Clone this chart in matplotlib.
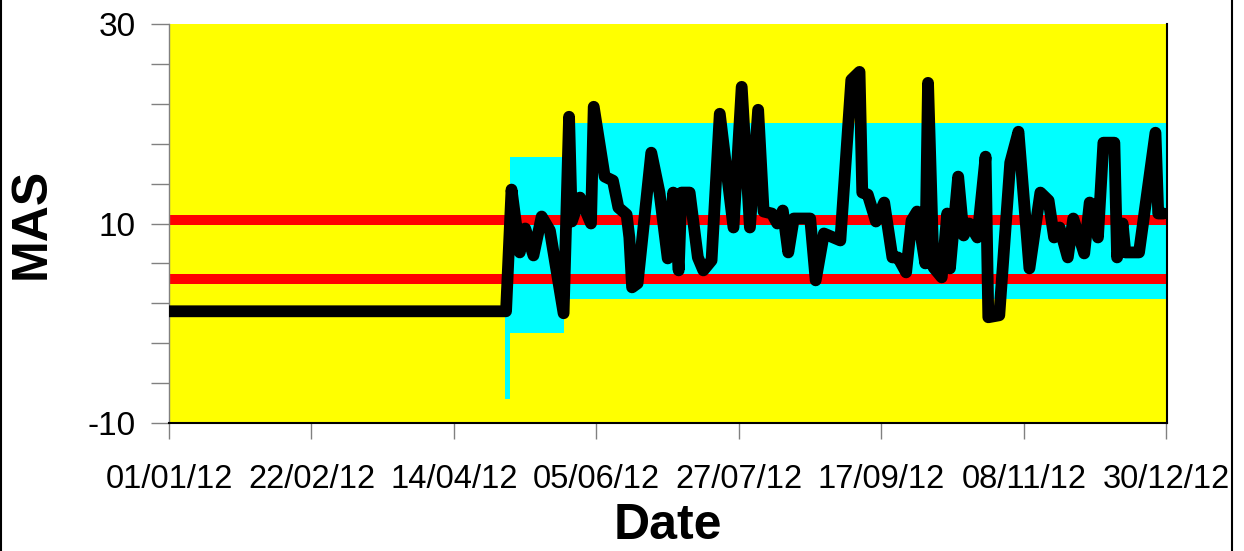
import numpy as np
import matplotlib
matplotlib.use('Agg')
import matplotlib.pyplot as plt
from matplotlib.lines import Line2D

plt.rcParams['font.family'] = ['Liberation Sans', 'DejaVu Sans']

# MAS series: days counted from 01/01/12
start = np.datetime64('2012-01-01')
mas_days = [0, 123, 125, 128, 130, 133, 136, 139, 144, 146, 147, 150, 154, 155,
            159, 162, 164, 167, 168, 169, 171, 176, 179, 182, 184, 186, 187, 190,
            193, 195, 198, 201, 206, 209, 212, 215, 217, 220, 222, 224, 226, 228,
            234, 236, 239, 245, 249, 252, 253, 255, 258, 261, 264, 266, 269, 271,
            273, 276, 277, 279, 282, 284, 285, 288, 290, 292, 295, 298, 299, 303,
            307, 310, 314, 318, 321, 323, 325, 328, 330, 334, 336, 337, 339, 341,
            345, 346, 348, 349, 354, 360, 361, 363]
mas_values = [1.2, 1.2, 13.4, 7.1, 9.5, 6.8, 10.7, 9.3, 1.0, 20.7, 10.2, 12.6, 10.0, 21.7,
              14.7, 14.3, 11.6, 10.9, 8.6, 3.6, 4.0, 17.1, 13.1, 6.5, 13.1, 5.3, 13.1, 13.1,
              6.6, 5.3, 6.3, 21.0, 9.6, 23.7, 9.6, 21.4, 11.2, 11.0, 10.0, 11.3, 7.1, 10.5,
              10.5, 4.3, 9.0, 8.3, 24.4, 25.2, 13.1, 12.9, 10.2, 12.1, 6.6, 6.6, 5.1, 10.3,
              11.2, 6.0, 24.1, 5.6, 4.6, 11.0, 5.5, 14.7, 8.8, 10.0, 8.6, 16.7, 0.6, 0.8,
              16.1, 19.2, 5.5, 13.1, 12.3, 8.6, 9.6, 6.6, 10.5, 7.0, 12.1, 11.9, 8.6, 18.1,
              18.1, 6.6, 10.0, 7.1, 7.1, 19.1, 11.0, 11.0]

# control limits (red lines)
limits = [10.4, 4.4]

# cyan bands: [first day, last day, low, high]
band_start = [122.5, 124.5, 144]
band_end = [124.5, 144, 364]
band_low = [-7.6, -1.0, 2.4]
band_high = [10.3, 16.7, 20.1]

x_tick_labels = ['01/01/12', '22/02/12', '14/04/12', '05/06/12',
                 '27/07/12', '17/09/12', '08/11/12', '30/12/12']


def to_dates(days):
    return start + np.array(np.round(np.array(days) * 24), dtype='timedelta64[h]')


fig = plt.figure(figsize=(12.44, 5.51), dpi=100)
ax = fig.add_axes([169 / 1244, 1 - 423 / 551, 998 / 1244, 399 / 551])
ax.set_facecolor('#ffff00')

for s, e, lo, hi in zip(band_start, band_end, band_low, band_high):
    d = to_dates([s, e])
    ax.fill_between(d, [lo, lo], [hi, hi], color='#00ffff', lw=0, zorder=1)

for lim in limits:
    ax.axhline(lim, color='#ff0000', lw=7.2, zorder=2)

ax.plot(to_dates(mas_days), mas_values, color='black', lw=8.5,
        solid_joinstyle='round', solid_capstyle='round', zorder=3)

ax.set_xlim(to_dates([0])[0], to_dates([364.2])[0])
ax.set_ylim(-10, 30)

ticks = to_dates(np.arange(0, 365, 52))
ax.set_xticks(ticks)
ax.set_xticklabels(x_tick_labels)
ax.set_yticks(np.arange(-10, 31, 4))
ax.set_yticklabels(['-10', '', '', '', '', '10', '', '', '', '', '30'])

ax.tick_params(axis='x', length=11.5, width=1, color='#808080', pad=18,
               labelsize=23.5)
ax.tick_params(axis='y', length=13, width=1, color='#808080', pad=11,
               labelsize=24)

ax.spines['top'].set_visible(False)
ax.spines['left'].set_color('#808080')
ax.spines['left'].set_linewidth(1)
ax.spines['bottom'].set_color('black')
ax.spines['bottom'].set_linewidth(1.5)
ax.spines['right'].set_color('black')
ax.spines['right'].set_linewidth(1.5)

ax.set_xlabel('Date', fontsize=36, fontweight='bold', labelpad=6)
ax.set_ylabel('MAS', fontsize=36, fontweight='bold', labelpad=24)

# outer frame (left and right edges of the chart area)
for fx in [1 / 1244, 1232 / 1244]:
    fig.lines.append(Line2D([fx, fx], [0, 1], transform=fig.transFigure,
                            color='black', lw=1.5))

fig.savefig('out.png', dpi=100)
